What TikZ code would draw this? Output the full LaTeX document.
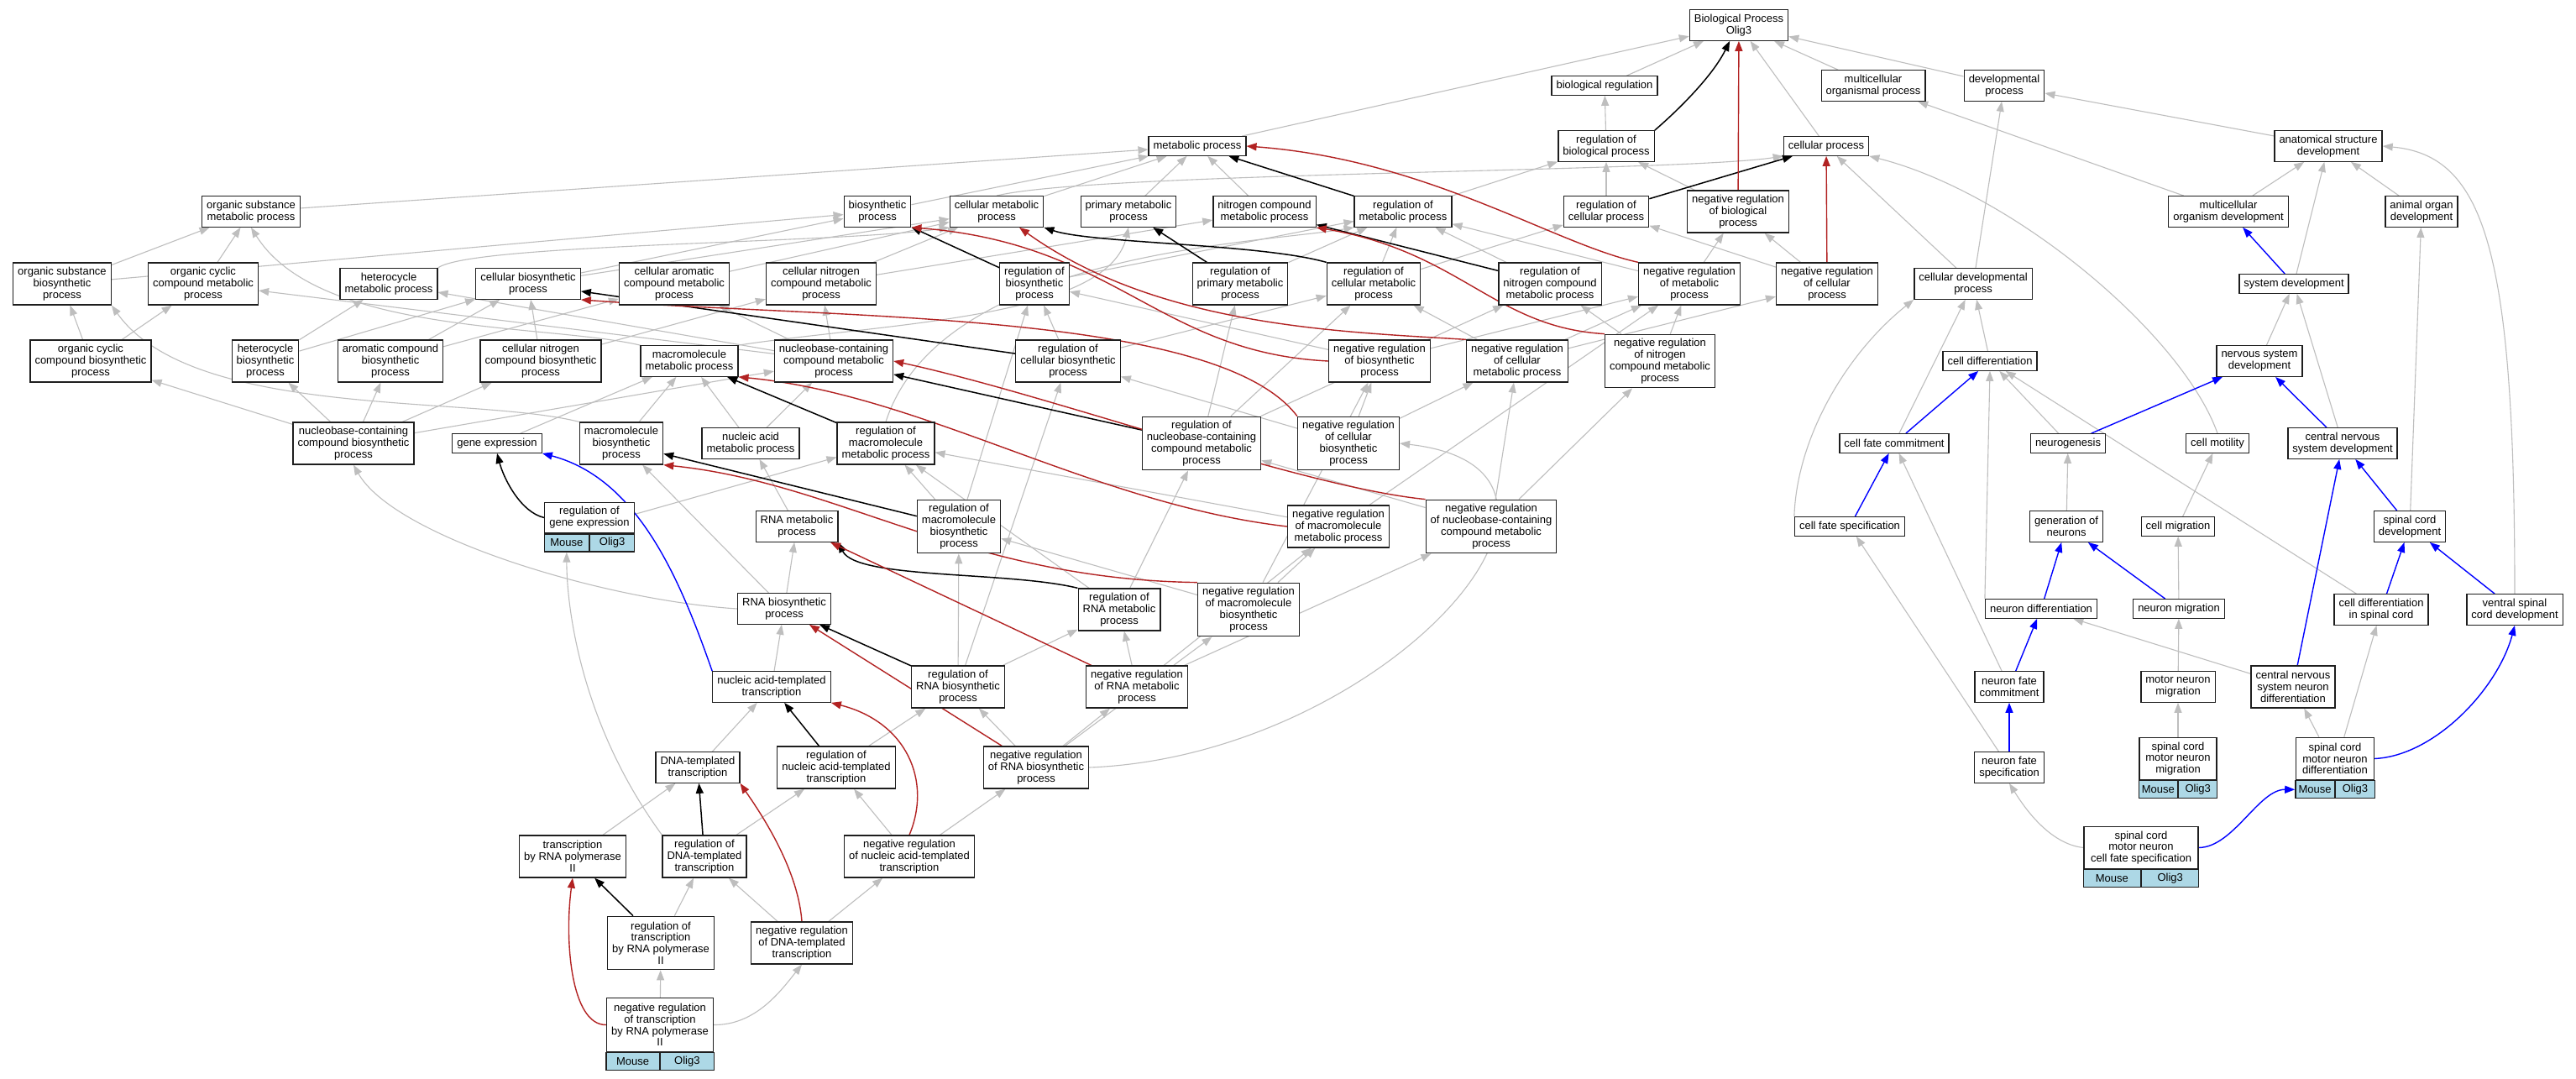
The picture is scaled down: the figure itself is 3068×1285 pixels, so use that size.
\documentclass[tikz,border=0pt]{standalone}
\usepackage{fontspec}
\setmainfont{Liberation Sans}
\usetikzlibrary{arrows.meta,fit}
\definecolor{edgegray}{RGB}{190,190,190}
\definecolor{negred}{RGB}{178,34,34}
\definecolor{cellblue}{RGB}{173,216,230}
\definecolor{boxline}{RGB}{30,30,30}
\pgfdeclarelayer{bgfill}
\pgfdeclarelayer{edges}
\pgfsetlayers{bgfill,edges,main}
\tikzset{
 box/.style={draw=boxline, line width=1.3pt, fill=white, align=center, inner xsep=5.5pt, inner ysep=2pt, font=\fontsize{13}{13.8}\selectfont},
 l1/.style={box, minimum height=22.5pt},
 l2/.style={box, minimum height=36.5pt},
 l3/.style={box, minimum height=50pt},
 l4/.style={box, minimum height=63.5pt},
 cell/.style={draw=boxline, line width=1.3pt, fill=cellblue, minimum height=21pt, inner sep=0pt, font=\fontsize{13}{13.8}\selectfont},
 isa/.style={draw=edgegray, line width=1.1pt, -{Triangle[length=12pt,width=9pt]}},
 reg/.style={draw=black, line width=1.5pt, -{Triangle[length=12pt,width=9pt]}},
 neg/.style={draw=negred, line width=1.4pt, -{Triangle[length=12pt,width=9pt]}},
 part/.style={draw=blue, line width=1.4pt, -{Triangle[length=12pt,width=9pt]}},
}
\newcommand\mktab[6]{%
 \node[#4, minimum width=#5] (#1t) at (#2,#3) {#6};
 \node[cell, minimum width=#5/2, anchor=north east] (#1m) at (#1t.south) {Mouse};
 \node[cell, minimum width=#5/2, anchor=north west] (#1o) at (#1t.south) {Olig3};
 \node[fit=(#1t)(#1m)(#1o), inner sep=0pt] (#1) {};
}
\begin{document}
\begin{tikzpicture}[x=1pt,y=-1pt]
\useasboundingbox (0,0) rectangle (3068,1285);
\begin{pgfonlayer}{bgfill}\fill[white] (0,0) rectangle (3068,1285);\end{pgfonlayer}
% ---- nodes ----
\node[l2] (BP) at (2071,30) {Biological Process\\Olig3};
\node[l1] (BR) at (1911,102) {biological regulation};
\node[l2] (MOP) at (2231,102) {multicellular\\organismal process};
\node[l2] (DP) at (2387,102) {developmental\\process};
\node[l1] (MP) at (1426,174) {metabolic process};
\node[l2] (RBP) at (1913,174) {regulation of\\biological process};
\node[l1] (CP) at (2175,174) {cellular process};
\node[l2] (ASD) at (2773,174) {anatomical structure\\development};
\node[l2] (OSMP) at (299,252) {organic substance\\metabolic process};
\node[l2] (BSP) at (1045,252) {biosynthetic\\process};
\node[l2] (CMP) at (1187,252) {cellular metabolic\\process};
\node[l2] (PMP) at (1344,252) {primary metabolic\\process};
\node[l2] (NCMP) at (1506,252) {nitrogen compound\\metabolic process};
\node[l2] (RMP) at (1671,252) {regulation of\\metabolic process};
\node[l2] (RCP) at (1913,252) {regulation of\\cellular process};
\node[l3] (NRBP) at (2070,252) {negative regulation\\of biological\\process};
\node[l2] (MOD) at (2654,252) {multicellular\\organism development};
\node[l2] (AOD) at (2884,252) {animal organ\\development};
\node[l3] (OSBP) at (74,338) {organic substance\\biosynthetic\\process};
\node[l3] (OCCMP) at (242,338) {organic cyclic\\compound metabolic\\process};
\node[l2] (HMP) at (463,338) {heterocycle\\metabolic process};
\node[l2] (CBP) at (629,338) {cellular biosynthetic\\process};
\node[l3] (CACMP) at (803,338) {cellular aromatic\\compound metabolic\\process};
\node[l3] (CNCMP) at (978,338) {cellular nitrogen\\compound metabolic\\process};
\node[l3] (RBSP) at (1232,338) {regulation of\\biosynthetic\\process};
\node[l3] (RPMP) at (1477,338) {regulation of\\primary metabolic\\process};
\node[l3] (RCMP) at (1636,338) {regulation of\\cellular metabolic\\process};
\node[l3] (RNCMP) at (1846,338) {regulation of\\nitrogen compound\\metabolic process};
\node[l3] (NRMP) at (2012,338) {negative regulation\\of metabolic\\process};
\node[l3] (NRCP) at (2176,338) {negative regulation\\of cellular\\process};
\node[l2] (CDP) at (2350,338) {cellular developmental\\process};
\node[l1] (SD) at (2732,338) {system development};
\node[l3] (OCCBP) at (108,430) {organic cyclic\\compound biosynthetic\\process};
\node[l3] (HBP) at (316,430) {heterocycle\\biosynthetic\\process};
\node[l3] (ACBP) at (465,430) {aromatic compound\\biosynthetic\\process};
\node[l3] (CNCBP) at (644,430) {cellular nitrogen\\compound biosynthetic\\process};
\node[l2] (MMP) at (821,430) {macromolecule\\metabolic process};
\node[l3] (NBCMP) at (993,430) {nucleobase-containing\\compound metabolic\\process};
\node[l3] (RCBP) at (1272,430) {regulation of\\cellular biosynthetic\\process};
\node[l3] (NRBSP) at (1643,430) {negative regulation\\of biosynthetic\\process};
\node[l3] (NRCMP) at (1807,430) {negative regulation\\of cellular\\metabolic process};
\node[l4] (NRNCMP) at (1977,430) {negative regulation\\of nitrogen\\compound metabolic\\process};
\node[l1] (CD) at (2370,430) {cell differentiation};
\node[l2] (NSD) at (2691,430) {nervous system\\development};
\node[l3] (NBCBP) at (421,528) {nucleobase-containing\\compound biosynthetic\\process};
\node[l1] (GE) at (592,528) {gene expression};
\node[l3] (MBP) at (740,528) {macromolecule\\biosynthetic\\process};
\node[l2] (NAMP) at (894,528) {nucleic acid\\metabolic process};
\node[l3] (RMMP) at (1055,528) {regulation of\\macromolecule\\metabolic process};
\node[l4] (RNBCMP) at (1431,528) {regulation of\\nucleobase-containing\\compound metabolic\\process};
\node[l4] (NRCBP) at (1606,528) {negative regulation\\of cellular\\biosynthetic\\process};
\node[l1] (CFC) at (2256,528) {cell fate commitment};
\node[l1] (NG) at (2463,528) {neurogenesis};
\node[l1] (CM) at (2641,528) {cell motility};
\node[l2] (CNSD) at (2790,528) {central nervous\\system development};
\mktab{RGE}{702}{616.5}{l2}{106pt}{regulation of\\gene expression}
\node[l2] (RNAMP) at (949,627) {RNA metabolic\\process};
\node[l4] (RMBP) at (1142,627) {regulation of\\macromolecule\\biosynthetic\\process};
\node[l3] (NRMMP) at (1594,627) {negative regulation\\of macromolecule\\metabolic process};
\node[l4] (NRNBCMP) at (1776,627) {negative regulation\\of nucleobase-containing\\compound metabolic\\process};
\node[l1] (CFS) at (2203,627) {cell fate specification};
\node[l2] (GON) at (2461,627) {generation of\\neurons};
\node[l1] (CMig) at (2594,627) {cell migration};
\node[l2] (SCD) at (2870,627) {spinal cord\\development};
\node[l2] (RNABP) at (934,725) {RNA biosynthetic\\process};
\node[l3] (RRNAMP) at (1333,726) {regulation of\\RNA metabolic\\process};
\node[l4] (NRMBP) at (1487,726) {negative regulation\\of macromolecule\\biosynthetic\\process};
\node[l1] (ND) at (2431,725) {neuron differentiation};
\node[l1] (NM) at (2595,725) {neuron migration};
\node[l2] (CDSC) at (2836,726) {cell differentiation\\in spinal cord};
\node[l2] (VSCD) at (2995,726) {ventral spinal\\cord development};
\node[l2] (NATT) at (919,818) {nucleic acid-templated\\transcription};
\node[l3] (RRNABP) at (1141,818) {regulation of\\RNA biosynthetic\\process};
\node[l3] (NRRNAMP) at (1354,818) {negative regulation\\of RNA metabolic\\process};
\node[l2] (NFC) at (2393,818) {neuron fate\\commitment};
\node[l2] (MNM) at (2594,818) {motor neuron\\migration};
\node[l3] (CNSND) at (2731,818) {central nervous\\system neuron\\differentiation};
\node[l2] (DTT) at (831,914) {DNA-templated\\transcription};
\node[l3] (RNATT) at (996,914) {regulation of\\nucleic acid-templated\\transcription};
\node[l3] (NRRNABP) at (1234,914) {negative regulation\\of RNA biosynthetic\\process};
\node[l2] (NFS) at (2393,914) {neuron fate\\specification};
\mktab{SCMNM}{2594}{903.5}{l3}{92pt}{spinal cord\\motor neuron\\migration}
\mktab{SCMND}{2781}{903.5}{l3}{93pt}{spinal cord\\motor neuron\\differentiation}
\node[l3] (TRP2) at (682,1020) {transcription\\by RNA polymerase\\II};
\node[l3] (RDTT) at (839,1020) {regulation of\\DNA-templated\\transcription};
\node[l3] (NRNATT) at (1083,1020) {negative regulation\\of nucleic acid-templated\\transcription};
\mktab{SCMNCFS}{2550}{1009.5}{l3}{136pt}{spinal cord\\motor neuron\\cell fate specification}
\node[l4] (RTRP2) at (787,1123) {regulation of\\transcription\\by RNA polymerase\\II};
\node[l3] (NRDTT) at (955,1123) {negative regulation\\of DNA-templated\\transcription};
\mktab{NRTRP2}{786}{1220.5}{l4}{127pt}{negative regulation\\of transcription\\by RNA polymerase\\II}
% ---- edges ----
\begin{pgfonlayer}{edges}
\foreach \a/\b in {BR/BP, MOP/BP, DP/BP, MP/BP, CP/BP,
 RBP/BR, NRBP/RBP, RCP/RBP, RMP/RBP,
 NRCP/NRBP, NRCP/RCP, NRMP/NRBP, NRMP/RMP,
 CDP/CP, CDP/DP, ASD/DP,
 MOD/ASD, MOD/MOP, AOD/ASD, SD/ASD,
 NSD/SD, CNSD/SD, SCD/AOD,
 CD/CDP, CFC/CDP, NG/CD, CDSC/CD,
 GON/NG, CMig/CM, NM/CMig, MNM/NM, SCMNM/MNM,
 CNSND/ND, NFC/CFC, NFS/CFS, SCMND/CNSND, SCMND/CDSC,
 OSMP/MP, CMP/MP, PMP/MP, NCMP/MP, BSP/MP,
 OSBP/OSMP, OSBP/BSP, OCCMP/OSMP,
 CBP/BSP, CBP/CMP, CACMP/CMP, CNCMP/CMP, CNCMP/NCMP,
 OCCBP/OCCMP, OCCBP/OSBP, HBP/HMP, HBP/CBP, ACBP/CACMP, ACBP/CBP, CNCBP/CBP, CNCBP/CNCMP,
 NBCMP/OCCMP, NBCMP/HMP, NBCMP/CACMP, NBCMP/CNCMP,
 NBCBP/OCCBP, NBCBP/HBP, NBCBP/ACBP, NBCBP/CNCBP, NBCBP/NBCMP,
 GE/MMP, MBP/MMP, NAMP/MMP, NAMP/NBCMP,
 RNAMP/NAMP, RNABP/RNAMP, RNABP/MBP,
 NATT/RNABP, DTT/NATT, TRP2/DTT,
 RBSP/RMP, RPMP/RMP, RCMP/RMP, RCMP/RCP, RNCMP/RMP,
 RCBP/RBSP, RCBP/RCMP, RMBP/RBSP, RMBP/RMMP,
 RNBCMP/RPMP, RNBCMP/RCMP, RNBCMP/RNCMP,
 RGE/RMMP, RRNAMP/RNBCMP, RRNAMP/RMMP,
 RRNABP/RRNAMP, RRNABP/RMBP, RRNABP/RCBP,
 RNATT/RRNABP, RDTT/RNATT, RTRP2/RDTT,
 NRBSP/RBSP, NRBSP/NRMP, NRCMP/RCMP, NRCMP/NRMP, NRCMP/NRCP,
 NRNCMP/RNCMP, NRNCMP/NRMP,
 NRCBP/RCBP, NRCBP/NRBSP, NRCBP/NRCMP,
 NRMMP/RMMP, NRMMP/NRMP,
 NRNBCMP/RNBCMP, NRNBCMP/NRCMP, NRNBCMP/NRNCMP,
 NRMBP/RMBP, NRMBP/NRMMP, NRMBP/NRBSP,
 NRRNAMP/RRNAMP, NRRNAMP/NRNBCMP, NRRNAMP/NRMMP,
 NRRNABP/RRNABP, NRRNABP/NRRNAMP, NRRNABP/NRMBP,
 NRNATT/RNATT, NRNATT/NRRNABP,
 NRDTT/RDTT, NRDTT/NRNATT, NRTRP2/RTRP2}
 \draw[isa] (\a) -- (\b);
\draw[isa] (CMP.north) .. controls (1300,205) and (2000,205) .. (CP.south west);
\draw[isa] (CM.north) .. controls (2600,400) and (2400,230) .. (CP.south east);
\draw[isa] (CFS.north west) .. controls (2140,520) and (2200,420) .. (CDP.south west);
\draw[isa] (VSCD.north) .. controls (2995,300) and (2960,185) .. (ASD.east);
\draw[isa] (HMP.north east) .. controls (560,290) and (1000,290) .. (CMP.south west);
\draw[isa] (MMP.north west) .. controls (650,385) and (380,400) .. (OSMP.south);
\draw[isa] (MMP.north east) .. controls (1050,385) and (1320,380) .. (PMP.south);
\draw[isa] (MBP.north west) .. controls (560,470) and (230,500) .. (OSBP.south east);
\draw[isa] (RNABP.west) .. controls (720,715) and (470,640) .. (NBCBP.south);
\draw[isa] (RDTT.north west) .. controls (690,860) and (675,720) .. (RGEm.south);
\draw[isa] (SCMNCFSt.west) .. controls (2440,1005) and (2410,960) .. (NFS.south);
\draw[isa] (NRTRP2t.east) .. controls (900,1221) and (930,1180) .. (NRDTT.south);
\draw[isa] (NRRNABP.east) .. controls (1650,900) and (1950,560) .. (NRCBP.east);
\draw[isa] (ND.north west) -- (CD.south);
\draw[isa] (RMMP.north) .. controls (1120,300) and (1500,290) .. (RMP.south west);
% regulates
\foreach \a/\b in {RCP/CP, RMP/MP, RBSP/BSP, RPMP/PMP, RNCMP/NCMP, RCBP/CBP, RMMP/MMP,
 RNBCMP/NBCMP, RMBP/MBP, RRNABP/RNABP, RNATT/NATT, RDTT/DTT, RTRP2/TRP2}
 \draw[reg] (\a) -- (\b);
\draw[reg] (RBP.north east) .. controls (2000,130) and (2040,90) .. (BP.-120);
\draw[reg] (RCMP.north west) .. controls (1500,290) and (1300,290) .. (CMP.south east);
\draw[reg] (RRNAMP.north west) .. controls (1200,680) and (1020,690) .. (RNAMP.south east);
\draw[reg] (RGEt.west) .. controls (620,610) and (600,570) .. (GE.south);
% negatively regulates
\foreach \a/\b in {NRBP/BP, NRCP/CP, NRRNAMP/RNAMP, NRRNABP/RNABP}
 \draw[neg] (\a) -- (\b);
\draw[neg] (NRMP.north west) .. controls (1850,290) and (1700,190) .. (MP.east);
\draw[neg] (NRBSP.west) .. controls (1380,420) and (1330,290) .. (BSP.south east);
\draw[neg] (NRCMP.north west) .. controls (1600,395) and (1380,390) .. (CMP.-35);
\draw[neg] (NRNCMP.north west) .. controls (1780,390) and (1740,300) .. (NCMP.south east);
\draw[neg] (NRCBP.north west) .. controls (1450,370) and (1000,380) .. (CBP.south east);
\draw[neg] (NRMMP.west) .. controls (1300,600) and (1100,470) .. (MMP.south east);
\draw[neg] (NRNBCMP.north west) .. controls (1550,580) and (1250,470) .. (NBCMP.east);
\draw[neg] (NRMBP.north west) .. controls (1150,690) and (1000,575) .. (MBP.south east);
\draw[neg] (NRNATT.north) .. controls (1110,930) and (1080,860) .. (NATT.south east);
\draw[neg] (NRDTT.north) .. controls (950,1030) and (900,960) .. (DTT.south east);
\draw[neg] (NRTRP2t.west) .. controls (680,1221) and (672,1120) .. (TRP2.south);
% part of
\foreach \a/\b in {SD/MOD, NG/NSD, CNSD/NSD, SCD/CNSD, CDSC/SCD, VSCD/SCD, CNSND/CNSD,
 CFC/CD, CFS/CFC, ND/GON, NM/GON, NFC/ND, NFS/NFC}
 \draw[part] (\a) -- (\b);
\draw[part] (SCMNCFSt.east) .. controls (2660,1009) and (2690,940) .. (SCMNDm.west);
\draw[part] (SCMNDt.east) .. controls (2900,900) and (2975,820) .. (VSCD.south);
\draw[part] (NATT.north west) .. controls (810,690) and (760,570) .. (GE.south east);
\end{pgfonlayer}
\end{tikzpicture}
\end{document}
